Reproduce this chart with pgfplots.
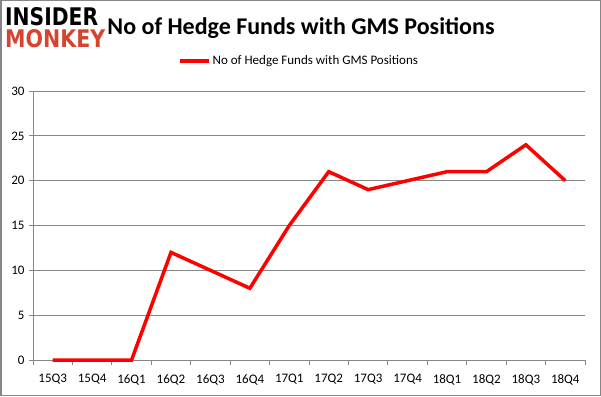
\documentclass[border=0pt]{standalone}
\usepackage{pgfplots}
\pgfplotsset{compat=1.18}
\usepackage{fontspec}
\usepackage{graphicx}
\setmainfont{Carlito}
\definecolor{gridgray}{RGB}{134,134,134}
\definecolor{monkeyred}{RGB}{214,68,48}
\begin{document}
\begin{tikzpicture}[x=1pt,y=1pt]
\draw[gridgray, line width=1.5pt] (0.75,0.75) rectangle (600.25,395.25);
\node[anchor=south west, inner sep=0pt] at (5,370) {\resizebox{93pt}{18pt}{\fontspec{DejaVu Sans}\bfseries INSIDER}};
\node[anchor=south west, inner sep=0pt] at (5,348) {\resizebox{100pt}{18pt}{\fontspec{DejaVu Sans}\bfseries\color{monkeyred}MONKEY}};
\node[anchor=center, inner sep=0pt] at (301,368) {\fontsize{24}{28}\selectfont\bfseries No of Hedge Funds with GMS Positions};
\begin{axis}[
  at={(33pt,36pt)}, anchor=south west,
  width=552pt, height=269pt, scale only axis,
  xmin=-0.5, xmax=13.5, ymin=0, ymax=30,
  axis x line*=bottom, axis y line*=left,
  axis line style={gridgray, line width=0.9pt, -},
  xtick={0,...,13},
  xticklabels={15Q3,15Q4,16Q1,16Q2,16Q3,16Q4,17Q1,17Q2,17Q3,17Q4,18Q1,18Q2,18Q3,18Q4},
  minor xtick={-0.5,0.5,...,13.5},
  ytick={0,5,...,30},
  major x tick style={draw=none},
  minor x tick style={gridgray, line width=0.9pt},
  minor tick length=5pt,
  major tick length=4pt,
  y tick style={gridgray, line width=0.9pt},
  tick align=outside,
  ymajorgrids,
  major grid style={gridgray, line width=0.9pt},
  tick label style={font=\fontsize{13}{15}\selectfont},
  xticklabel style={yshift=-7pt},
  yticklabel style={xshift=-1pt},
  /pgf/number format/assume math mode=true,
  legend style={at={(rel axis cs:0.482,1.1115)}, anchor=center, draw=none, fill=none, font=\fontsize{13}{15}\selectfont},
  legend image code/.code={\draw[#1, line width=3.5pt] (0pt,0pt) -- (29pt,0pt);},
  clip=false,
]
\addplot[red, line width=3.5pt, line join=miter] coordinates {
(0,0) (1,0) (2,0) (3,12) (4,10) (5,8) (6,15) (7,21) (8,19) (9,20) (10,21) (11,21) (12,24) (13,20)
};
\addlegendentry{No of Hedge Funds with GMS Positions}
\end{axis}
\pgfresetboundingbox
\useasboundingbox (0,0) rectangle (601,396);
\end{tikzpicture}
\end{document}
